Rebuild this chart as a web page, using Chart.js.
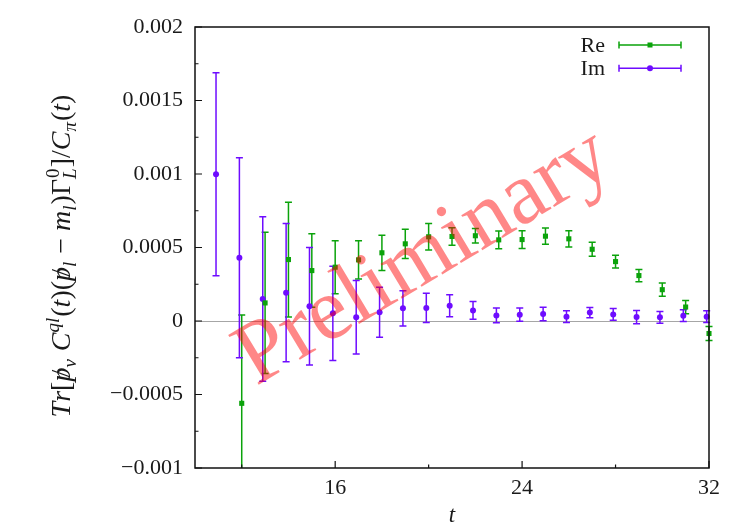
<!DOCTYPE html>
<html><head><meta charset="utf-8">
<script src="https://cdn.jsdelivr.net/npm/chart.js@4.4.0/dist/chart.umd.min.js"></script>
<style>html,body{margin:0;padding:0;background:#fff;}#wrap{width:733px;height:532px;}</style>
</head><body><div id="wrap"><canvas id="c" width="733" height="532"></canvas></div>
<script>
// ---- data ----
const reT   = [12,13,14,15,16,17,18,19,20,21,22,23,24,25,26,27,28,29,30,31,32];
const reVal = [-0.00056,0.000123,0.000418,0.000343,0.000366,0.000416,0.000464,0.000525,0.000573,0.000575,0.00058,0.000552,0.000554,0.000577,0.000559,0.000488,0.000404,0.000309,0.000213,0.000095,-0.000085];
const reErr = [0.0006,0.00048,0.00039,0.00025,0.00018,0.00013,0.00012,0.0001,0.00009,0.00006,0.00005,0.00006,0.00006,0.000055,0.000055,0.000047,0.000044,0.000042,0.000045,0.000045,0.000047];
const imT   = [11,12,13,14,15,16,17,18,19,20,21,22,23,24,25,26,27,28,29,30,31,32];
const imVal = [0.000998,0.00043,0.00015,0.000193,0.0001,0.000052,0.000025,0.000059,0.000086,0.000089,0.000104,0.000072,0.000038,0.000043,0.000048,0.000029,0.000057,0.000045,0.000027,0.000025,0.000036,0.000029];
const imErr = [0.00069,0.00068,0.00056,0.00047,0.0004,0.00032,0.00025,0.00017,0.00012,0.0001,0.000075,0.00006,0.00005,0.000045,0.000046,0.00004,0.000035,0.00004,0.000045,0.00004,0.00004,0.00004];
const xTicks      = [12,16,20,24,28,32];
const xTickLabels = ['','16','','24','','32'];
const yTicks      = [-0.001,-0.00075,-0.0005,-0.00025,0,0.00025,0.0005,0.00075,0.001,0.00125,0.0015,0.00175,0.002];
const yTickLabels = ['\u22120.001','','\u22120.0005','','0','','0.0005','','0.001','','0.0015','','0.002'];
const seriesLabels = ['Re','Im'];
const watermarkText = 'Preliminary';

// ---- style ----
const IM_SHIFT = -0.1;
const RE_C = '#0ba30b';
const IM_C = '#6e0cff';
const SERIF = '"Liberation Serif","Times New Roman",serif';
const TXT = '#1a1a1a';

function drawYTitle(ctx, cx, cy){
  const N = 28, S = 19;
  const segs = [
    {s:'T',it:1},{s:'r',it:1},{s:'[',it:0},{s:'p',it:1,slash:1},{s:'\u03bd',it:1,sub:1},{s:' ',it:0},
    {s:'C',it:1},{s:'ql',it:1,sup:1},{s:'(',it:0},{s:'t',it:1},{s:')',it:0},{s:'(',it:0},
    {s:'p',it:1,slash:1},{s:'l',it:1,sub:1},{s:' \u2212 ',it:0},{s:'m',it:1},{s:'l',it:1,sub:1},{s:')',it:0},
    {s:'\u0393',it:0},{stack:['0','L']},{s:']',it:0},{s:'/',it:0},{s:'C',it:1},{s:'\u03c0',it:1,sub:1},
    {s:'(',it:0},{s:'t',it:1},{s:')',it:0}
  ];
  const fontOf = (it, small) => (it?'italic ':'') + (small?S:N) + 'px ' + SERIF;
  ctx.save();
  let W = 0;
  const widths = segs.map(g=>{
    let w;
    if (g.stack){ ctx.font=fontOf(0,1); const a=ctx.measureText(g.stack[0]).width; ctx.font=fontOf(1,1); const b=ctx.measureText(g.stack[1]).width; w=Math.max(a,b)+1; }
    else { ctx.font=fontOf(g.it, g.sub||g.sup); w=ctx.measureText(g.s).width + ((g.sub||g.sup)?1:0); }
    W += w; return w;
  });
  ctx.translate(cx, cy);
  ctx.rotate(-Math.PI/2);
  ctx.fillStyle = TXT;
  ctx.textBaseline = 'alphabetic';
  ctx.textAlign = 'left';
  let x = -W/2;
  segs.forEach((g,i)=>{
    if (g.stack){
      ctx.font=fontOf(0,1); ctx.fillText(g.stack[0], x+1, -11);
      ctx.font=fontOf(1,1); ctx.fillText(g.stack[1], x, 6);
    } else {
      ctx.font=fontOf(g.it, g.sub||g.sup);
      const dy = g.sub?6:(g.sup?-11:0);
      ctx.fillText(g.s, x, dy);
      if (g.slash){
        ctx.font=fontOf(0,0);
        const sw = ctx.measureText('/').width;
        ctx.fillText('/', x + widths[i]/2 - sw/2 + 1, 0);
      }
    }
    x += widths[i];
  });
  ctx.restore();
}

const customDraw = {
  id: 'customDraw',
  beforeDatasetsDraw(chart){
    const {ctx, chartArea:a, scales:{x, y}} = chart;
    ctx.save();
    const y0 = Math.round(y.getPixelForValue(0)) + 0.5;
    ctx.strokeStyle = '#a6a6a6'; ctx.lineWidth = 1;
    ctx.beginPath(); ctx.moveTo(a.left, y0); ctx.lineTo(a.right, y0); ctx.stroke();
    ctx.beginPath(); ctx.rect(a.left - 10, a.top, a.right - a.left + 20, a.bottom - a.top); ctx.clip();
    chart.data.datasets.forEach(ds=>{
      ctx.strokeStyle = ds.borderColor; ctx.lineWidth = 1.5;
      ds.data.forEach((p,i)=>{
        const e = ds.errs[i];
        const px = x.getPixelForValue(p.x);
        const y1 = y.getPixelForValue(p.y + e), y2 = y.getPixelForValue(p.y - e);
        ctx.beginPath();
        ctx.moveTo(px, y1); ctx.lineTo(px, y2);
        ctx.moveTo(px - 3.5, y1); ctx.lineTo(px + 3.5, y1);
        ctx.moveTo(px - 3.5, y2); ctx.lineTo(px + 3.5, y2);
        ctx.stroke();
      });
    });
    ctx.restore();
  },
  afterDraw(chart){
    const {ctx, chartArea:a, scales:{x, y}} = chart;
    ctx.save();
    ctx.strokeStyle = '#111'; ctx.lineWidth = 1.5;
    ctx.strokeRect(a.left, a.top, a.right - a.left, a.bottom - a.top);
    ctx.lineWidth = 1.2;
    ctx.beginPath();
    yTicks.forEach((v,i)=>{
      const py = y.getPixelForValue(v); const L = yTickLabels[i] ? 7 : 3.5;
      ctx.moveTo(a.left, py); ctx.lineTo(a.left + L, py);
    });
    xTicks.forEach((v,i)=>{
      const px = x.getPixelForValue(v); const L = xTickLabels[i] ? 7 : 3.5;
      ctx.moveTo(px, a.bottom); ctx.lineTo(px, a.bottom - L);
    });
    ctx.stroke();
    const ly = [45, 68.3];
    chart.data.datasets.forEach((ds,i)=>{
      const yy = ly[i];
      ctx.font = '22px ' + SERIF; ctx.fillStyle = TXT;
      ctx.textAlign = 'right'; ctx.textBaseline = 'middle';
      ctx.fillText(seriesLabels[i], 605, yy + 1);
      ctx.strokeStyle = ds.borderColor; ctx.lineWidth = 1.5;
      ctx.beginPath();
      ctx.moveTo(619, yy); ctx.lineTo(681, yy);
      ctx.moveTo(619, yy - 3.5); ctx.lineTo(619, yy + 3.5);
      ctx.moveTo(681, yy - 3.5); ctx.lineTo(681, yy + 3.5);
      ctx.stroke();
      ctx.fillStyle = ds.backgroundColor;
      if (ds.pointStyle === 'rect'){ ctx.fillRect(650 - 2.5, yy - 2.5, 5, 5); }
      else { ctx.beginPath(); ctx.arc(650, yy, 3, 0, Math.PI*2); ctx.fill(); }
    });
    ctx.fillStyle = TXT; ctx.font = 'italic 23px ' + SERIF;
    ctx.textAlign = 'center'; ctx.textBaseline = 'alphabetic';
    ctx.fillText('t', (a.left + a.right)/2, 522);
    drawYTitle(ctx, 70, 256);
    ctx.translate(436, 278);
    ctx.rotate(-31 * Math.PI / 180);
    ctx.font = '89px ' + SERIF;
    ctx.fillStyle = 'rgba(255,0,0,0.47)';
    ctx.textAlign = 'center'; ctx.textBaseline = 'alphabetic';
    ctx.fillText(watermarkText, 0, 0);
    ctx.restore();
  }
};

new Chart(document.getElementById('c'), {
  type: 'scatter',
  data: {
    datasets: [
      { label: seriesLabels[0], data: reT.map((t,i)=>({x:t, y:reVal[i]})), errs: reErr,
        pointStyle:'rect', pointRadius:3.6, pointHoverRadius:3.6, backgroundColor:RE_C, borderColor:RE_C, borderWidth:0, clip:false },
      { label: seriesLabels[1], data: imT.map((t,i)=>({x:t + IM_SHIFT, y:imVal[i]})), errs: imErr,
        pointStyle:'circle', pointRadius:3, pointHoverRadius:3, backgroundColor:IM_C, borderColor:IM_C, borderWidth:0, clip:false }
    ]
  },
  options: {
    responsive:false, animation:false, devicePixelRatio:1,
    layout:{padding:{top:27, right:24, left:0, bottom:0}},
    plugins:{legend:{display:false}, tooltip:{enabled:false}},
    events:[],
    scales:{
      x:{ type:'linear', min:10, max:32,
        afterBuildTicks:s=>{ s.ticks = xTicks.map(v=>({value:v})); },
        afterFit:s=>{ s.height = 64; },
        grid:{display:false, drawTicks:false}, border:{display:false},
        ticks:{ autoSkip:false, maxRotation:0, padding:7, color:TXT, font:{family:SERIF, size:22},
          callback:(v,i)=>xTickLabels[i] }
      },
      y:{ type:'linear', min:-0.001, max:0.002,
        afterBuildTicks:s=>{ s.ticks = yTicks.map(v=>({value:v})); },
        afterFit:s=>{ s.width = 195; },
        grid:{display:false, drawTicks:false}, border:{display:false},
        ticks:{ autoSkip:false, padding:12, color:TXT, font:{family:SERIF, size:22},
          callback:(v,i)=>yTickLabels[i] }
      }
    }
  },
  plugins:[customDraw]
});
</script></body></html>
